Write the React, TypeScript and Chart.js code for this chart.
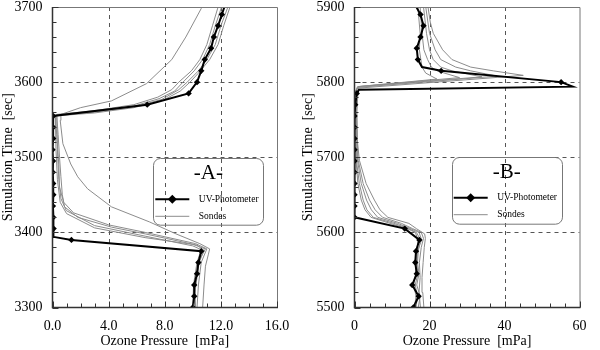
import React, { useEffect, useRef } from "react";
import { Chart, registerables } from "chart.js";
Chart.register(...registerables);

const SERIF = "'Liberation Serif', 'Times New Roman', serif";
Chart.defaults.font.family = SERIF;

// ---------------- Panel A data ----------------
const uvA_time = [3300, 3315, 3330, 3345, 3360, 3375, 3390, 3394, 3405, 3420, 3435, 3450, 3465, 3480, 3495, 3510, 3525, 3540, 3555, 3570, 3585, 3600, 3615, 3630, 3645, 3660, 3675, 3690, 3700];
const uvA_o3 = [10.0, 10.1, 10.1, 10.3, 10.4, 10.6, 1.35, 0.08, 0.08, 0.05, 0.03, 0.06, 0.05, 0.02, 0.04, 0.0, 0.05, 0.04, 0.05, 6.75, 9.7, 10.3, 10.6, 10.85, 11.3, 11.5, 11.8, 12.07, 12.25];

const sondeA1_time = [3300, 3330, 3355, 3370, 3378, 3385, 3398, 3414, 3434, 3458, 3474, 3491, 3518, 3549, 3557, 3566, 3575, 3598, 3630, 3660, 3698, 3710];
const sondeA1_o3 = [10.7, 10.8, 10.9, 11.1, 11.2, 10.5, 8.8, 6.9, 4.2, 2.5, 1.8, 1.3, 0.74, 0.55, 0.6, 2.0, 4.2, 6.7, 8.5, 9.5, 10.6, 10.9];
const sondeA2_time = [3300, 3320, 3340, 3360, 3376, 3383, 3392, 3398, 3407, 3420, 3434, 3450, 3474, 3500, 3530, 3557, 3562, 3570, 3580, 3590, 3600, 3615, 3630, 3650, 3675, 3700, 3710];
const sondeA2_o3 = [10.2, 10.15, 10.3, 10.45, 10.8, 10.3, 8.1, 6.6, 4.2, 1.8, 0.86, 0.7, 0.6, 0.5, 0.4, 0.3, 3.0, 5.8, 7.5, 8.5, 9.0, 9.9, 10.5, 11.0, 11.4, 11.8, 12.0];
const sondeA3_time = [3300, 3330, 3360, 3377, 3382, 3395, 3409, 3429, 3445, 3470, 3510, 3556, 3561, 3568, 3578, 3588, 3600, 3615, 3630, 3650, 3675, 3700, 3710];
const sondeA3_o3 = [10.0, 10.05, 10.3, 10.6, 10.0, 6.6, 3.0, 0.98, 0.6, 0.45, 0.35, 0.3, 3.0, 5.8, 7.6, 8.7, 9.3, 10.1, 10.7, 11.2, 11.6, 12.05, 12.2];
const sondeA4_time = [3300, 3330, 3360, 3378, 3384, 3393, 3406, 3425, 3440, 3470, 3510, 3556, 3560, 3567, 3577, 3590, 3600, 3615, 3630, 3650, 3675, 3700, 3710];
const sondeA4_o3 = [10.1, 10.2, 10.35, 10.9, 10.0, 6.6, 3.0, 1.0, 0.55, 0.35, 0.25, 0.2, 3.0, 5.8, 7.8, 9.0, 9.6, 10.4, 11.0, 11.6, 12.0, 12.5, 12.7];
const sondeA5_time = [3300, 3330, 3360, 3378, 3385, 3400, 3410, 3426, 3440, 3460, 3490, 3530, 3555, 3559, 3566, 3576, 3588, 3600, 3612, 3630, 3650, 3675, 3700, 3710];
const sondeA5_o3 = [10.3, 10.4, 10.6, 11.0, 10.2, 6.6, 4.0, 1.5, 0.8, 0.5, 0.45, 0.3, 0.2, 3.0, 5.8, 7.9, 9.1, 9.8, 10.4, 11.2, 11.8, 12.2, 12.65, 12.8];

// ---------------- Panel B data ----------------
const uvB_time = [5500, 5515, 5530, 5545, 5560, 5575, 5590, 5605, 5620, 5635, 5650, 5665, 5680, 5695, 5710, 5725, 5740, 5755, 5770, 5785, 5790, 5794, 5800, 5815, 5820, 5830, 5845, 5860, 5875, 5890, 5900];
const uvB_o3 = [15.7, 17.1, 15.4, 16.6, 16.2, 16.4, 17.3, 13.4, 0.0, 0.0, 0.0, 0.0, 0.0, 0.0, 0.0, 0.0, 0.0, 0.0, 0.2, 0.6, 1.2, 58.2, 55.1, 23.1, 18.0, 16.9, 16.6, 17.6, 18.4, 17.6, 16.5];

const sondeB1_time = [5500, 5520, 5540, 5560, 5580, 5592, 5598, 5605, 5612, 5620, 5630, 5643, 5665, 5696, 5720, 5760, 5792, 5809, 5815, 5820, 5830, 5843, 5865, 5880, 5900, 5905];
const sondeB1_o3 = [18.5, 18.2, 18.0, 18.3, 18.6, 18.9, 18.7, 16.5, 14.5, 8.9, 6.8, 5.3, 3.1, 1.3, 0.8, 0.6, 1.0, 45, 37, 31, 26, 23.5, 21, 20.2, 19.6, 19.5];
const sondeB2_time = [5500, 5520, 5540, 5560, 5580, 5592, 5600, 5605, 5612, 5620, 5630, 5643, 5665, 5696, 5730, 5790, 5793, 5808, 5815, 5820, 5830, 5843, 5865, 5900, 5905];
const sondeB2_o3 = [17.6, 17.2, 17.5, 17.3, 17.8, 18.4, 17.8, 15.5, 12.5, 7.5, 5.5, 4.0, 2.3, 1.0, 0.6, 0.6, 1.0, 38, 31, 27, 23, 21.5, 20, 19.0, 18.9];
const sondeB3_time = [5500, 5515, 5530, 5545, 5560, 5575, 5590, 5600, 5605, 5612, 5620, 5630, 5643, 5665, 5696, 5788, 5794, 5807, 5815, 5820, 5830, 5843, 5865, 5900, 5905];
const sondeB3_o3 = [16.4, 16.8, 16.2, 16.9, 16.6, 16.8, 17.9, 17.2, 15.0, 11.5, 6.2, 4.5, 3.2, 1.8, 0.8, 0.4, 1.0, 34, 26, 23, 21, 20, 19.2, 18.4, 18.3];
const sondeB4_time = [5500, 5515, 5530, 5545, 5560, 5575, 5590, 5600, 5605, 5612, 5620, 5630, 5643, 5665, 5696, 5788, 5794, 5806, 5815, 5820, 5830, 5843, 5865, 5900, 5905];
const sondeB4_o3 = [17.0, 17.5, 16.6, 17.2, 16.8, 17.0, 17.6, 16.5, 14.5, 10.5, 5.0, 3.3, 2.3, 1.3, 0.5, 0.3, 1.0, 28, 22, 20.5, 19.5, 18.5, 18, 17.5, 17.4];
const sondeB5_time = [5500, 5515, 5530, 5545, 5560, 5575, 5590, 5600, 5605, 5612, 5620, 5630, 5643, 5665, 5696, 5788, 5794, 5804, 5812, 5820, 5843, 5865, 5900, 5905];
const sondeB5_o3 = [16.0, 16.4, 15.8, 16.3, 16.5, 16.6, 17.0, 16.2, 14.0, 9.5, 4.4, 2.8, 1.8, 0.9, 0.4, 0.3, 0.8, 22, 19, 18, 17.3, 17.5, 16.9, 16.8];

// ---------------- axes ----------------
const xTickDecimalsA = 1;
const xTickDecimalsB = 0;

type Panel = {
  letter: string;
  uv: [number[], number[]];
  sondes: [number[], number[]][];
  xMin: number; xMax: number; xStep: number; xMinor: number; xDec: number;
  yMin: number; yMax: number; yStep: number; yMinor: number;
  yAxisWidth: number; padRight: number;
  legendLeft: number; legendTop: number;
};

const panelA: Panel = {
  letter: "-A-",
  uv: [uvA_time, uvA_o3],
  sondes: [[sondeA1_time, sondeA1_o3], [sondeA2_time, sondeA2_o3], [sondeA3_time, sondeA3_o3], [sondeA4_time, sondeA4_o3], [sondeA5_time, sondeA5_o3]],
  xMin: 0, xMax: 16, xStep: 4, xMinor: 1, xDec: xTickDecimalsA,
  yMin: 3300, yMax: 3700, yStep: 100, yMinor: 20,
  yAxisWidth: 52.5, padRight: 23,
  legendLeft: 100.8, legendTop: 151.3,
};

const panelB: Panel = {
  letter: "-B-",
  uv: [uvB_time, uvB_o3],
  sondes: [[sondeB1_time, sondeB1_o3], [sondeB2_time, sondeB2_o3], [sondeB3_time, sondeB3_o3], [sondeB4_time, sondeB4_o3], [sondeB5_time, sondeB5_o3]],
  xMin: 0, xMax: 60, xStep: 20, xMinor: 4, xDec: xTickDecimalsB,
  yMin: 5500, yMax: 5900, yStep: 100, yMinor: 20,
  yAxisWidth: 54.5, padRight: 20.5,
  legendLeft: 97.2, legendTop: 149.7,
};

const zip = (t: number[], v: number[]) => t.map((tt, i) => ({ x: v[i], y: tt }));

function roundRect(ctx: CanvasRenderingContext2D, x: number, y: number, w: number, h: number, r: number) {
  ctx.beginPath();
  ctx.moveTo(x + r, y);
  ctx.lineTo(x + w - r, y);
  ctx.arcTo(x + w, y, x + w, y + r, r);
  ctx.lineTo(x + w, y + h - r);
  ctx.arcTo(x + w, y + h, x + w - r, y + h, r);
  ctx.lineTo(x + r, y + h);
  ctx.arcTo(x, y + h, x, y + h - r, r);
  ctx.lineTo(x, y + r);
  ctx.arcTo(x, y, x + r, y, r);
  ctx.closePath();
}

function makeFramePlugin(p: Panel) {
  return {
    id: "frame",
    beforeDatasetsDraw(chart: any) {
      const { ctx, chartArea: a, scales } = chart;
      const xs = scales.x, ys = scales.y;
      ctx.save();
      ctx.strokeStyle = "#555";
      ctx.lineWidth = 1;
      ctx.setLineDash([4, 4]);
      const nx = Math.round((p.xMax - p.xMin) / p.xStep);
      for (let i = 1; i < nx; i++) {
        const px = Math.round(xs.getPixelForValue(p.xMin + i * p.xStep)) + 0.5;
        ctx.beginPath(); ctx.moveTo(px, a.top); ctx.lineTo(px, a.bottom); ctx.stroke();
      }
      const ny = Math.round((p.yMax - p.yMin) / p.yStep);
      for (let i = 1; i < ny; i++) {
        const py = Math.round(ys.getPixelForValue(p.yMin + i * p.yStep)) + 0.5;
        ctx.beginPath(); ctx.moveTo(a.left, py); ctx.lineTo(a.right, py); ctx.stroke();
      }
      ctx.restore();
    },
    afterDatasetsDraw(chart: any) {
      const { ctx, chartArea: a, scales } = chart;
      const xs = scales.x, ys = scales.y;
      ctx.save();
      ctx.setLineDash([]);
      // top & right border
      ctx.strokeStyle = "#777";
      ctx.lineWidth = 1;
      ctx.beginPath();
      ctx.moveTo(a.left, a.top + 0.5); ctx.lineTo(a.right + 0.5, a.top + 0.5); ctx.lineTo(a.right + 0.5, a.bottom);
      ctx.stroke();
      // left & bottom axis
      ctx.strokeStyle = "#333";
      ctx.lineWidth = 1.5;
      ctx.beginPath();
      ctx.moveTo(a.left, a.top); ctx.lineTo(a.left, a.bottom); ctx.lineTo(a.right + 1, a.bottom);
      ctx.stroke();
      // inward ticks
      ctx.lineWidth = 1;
      ctx.strokeStyle = "#333";
      const nxm = Math.round((p.xMax - p.xMin) / p.xMinor);
      for (let i = 0; i <= nxm; i++) {
        const v = p.xMin + i * p.xMinor;
        const major = Math.abs((v - p.xMin) / p.xStep - Math.round((v - p.xMin) / p.xStep)) < 1e-6;
        const px = Math.round(xs.getPixelForValue(v)) + 0.5;
        ctx.beginPath(); ctx.moveTo(px, a.bottom); ctx.lineTo(px, a.bottom - (major ? 6 : 4)); ctx.stroke();
      }
      const nym = Math.round((p.yMax - p.yMin) / p.yMinor);
      for (let i = 0; i <= nym; i++) {
        const v = p.yMin + i * p.yMinor;
        const major = Math.abs((v - p.yMin) / p.yStep - Math.round((v - p.yMin) / p.yStep)) < 1e-6;
        const py = Math.round(ys.getPixelForValue(v)) + 0.5;
        ctx.beginPath(); ctx.moveTo(a.left, py); ctx.lineTo(a.left + (major ? 6 : 4), py); ctx.stroke();
      }
      // legend
      const bx = a.left + p.legendLeft, by = a.top + p.legendTop, bw = 110, bh = 66.7;
      ctx.strokeStyle = "#777";
      ctx.lineWidth = 1;
      roundRect(ctx, Math.round(bx) + 0.5, Math.round(by) + 0.5, bw, bh, 7);
      ctx.stroke();
      ctx.fillStyle = "#000";
      ctx.textAlign = "center";
      ctx.textBaseline = "middle";
      ctx.font = `21px ${SERIF}`;
      ctx.fillText(p.letter, bx + bw / 2, by + 15.5);
      // UV sample
      const uy = by + 41;
      ctx.strokeStyle = "#000";
      ctx.lineWidth = 2;
      ctx.beginPath(); ctx.moveTo(bx + 2, uy); ctx.lineTo(bx + 36, uy); ctx.stroke();
      const mx = bx + 19, r = 4.5;
      ctx.beginPath(); ctx.moveTo(mx - r, uy); ctx.lineTo(mx, uy - r); ctx.lineTo(mx + r, uy); ctx.lineTo(mx, uy + r); ctx.closePath(); ctx.fill();
      // Sondes sample
      const sy = by + 58;
      ctx.strokeStyle = "#8c8c8c";
      ctx.lineWidth = 1;
      ctx.beginPath(); ctx.moveTo(bx + 2, sy); ctx.lineTo(bx + 36, sy); ctx.stroke();
      ctx.font = `9.5px ${SERIF}`;
      ctx.textAlign = "left";
      ctx.fillStyle = "#000";
      ctx.fillText("UV-Photometer", bx + 45.5, uy);
      ctx.fillText("Sondes", bx + 45.5, sy);
      ctx.restore();
    },
  };
}

function makeConfig(p: Panel): any {
  const t0 = p.uv[0][0];
  const datasets: any[] = [
    {
      label: "UV-Photometer",
      data: zip(p.uv[0], p.uv[1]),
      showLine: true,
      borderColor: "#000",
      backgroundColor: "#000",
      borderWidth: 2,
      tension: 0,
      pointStyle: "rectRot",
      pointRadius: (c: any) => (c.raw && (c.raw.y - t0) % 15 === 0 ? 3.2 : 0),
      pointBackgroundColor: "#000",
      pointBorderWidth: 0,
    },
    ...p.sondes.map((s, i) => ({
      label: "Sondes " + (i + 1),
      data: zip(s[0], s[1]),
      showLine: true,
      borderColor: "#8c8c8c",
      borderWidth: 1,
      tension: 0,
      pointRadius: 0,
    })),
  ];
  return {
    type: "scatter",
    data: { datasets },
    plugins: [makeFramePlugin(p)],
    options: {
      animation: false,
      responsive: false,
      devicePixelRatio: 1,
      events: [],
      layout: { padding: { left: 0, right: p.padRight, top: 7, bottom: 0 } },
      plugins: { legend: { display: false }, tooltip: { enabled: false } },
      scales: {
        x: {
          type: "linear",
          min: p.xMin, max: p.xMax,
          grid: { display: false, drawTicks: false },
          border: { display: false },
          ticks: {
            stepSize: p.xStep,
            padding: 12,
            color: "#000",
            font: { family: SERIF, size: 14, lineHeight: 1 },
            callback: (v: number) => Number(v).toFixed(p.xDec),
            maxRotation: 0,
          },
          title: {
            display: true,
            text: "Ozone Pressure  [mPa]",
            color: "#000",
            font: { family: SERIF, size: 14 },
            padding: { top: 0, bottom: 0 },
          },
          afterFit: (s: any) => { s.height = 42.5; s.paddingLeft = 0; s.paddingRight = 0; },
        },
        y: {
          type: "linear",
          min: p.yMin, max: p.yMax,
          grid: { display: false, drawTicks: false },
          border: { display: false },
          ticks: {
            stepSize: p.yStep,
            padding: 10,
            color: "#000",
            font: { family: SERIF, size: 14, lineHeight: 1 },
            callback: (v: number) => String(Math.round(Number(v))),
          },
          title: {
            display: true,
            text: "Simulation Time  [sec]",
            color: "#000",
            font: { family: SERIF, size: 14 },
            padding: { top: 0, bottom: 0 },
          },
          afterFit: (s: any) => { s.width = p.yAxisWidth; s.paddingTop = 0; s.paddingBottom = 0; },
        },
      },
    },
  };
}

function PanelChart({ panel, left }: { panel: Panel; left: number }) {
  const ref = useRef<HTMLCanvasElement>(null);
  useEffect(() => {
    const chart = new Chart(ref.current as HTMLCanvasElement, makeConfig(panel));
    return () => chart.destroy();
  }, [panel]);
  return (
    <canvas
      ref={ref}
      width={300}
      height={350}
      style={{ position: "absolute", left, top: 0, width: 300, height: 350 }}
    />
  );
}

export default function App() {
  return (
    <div style={{ position: "fixed", left: 0, top: 0, width: 600, height: 350, background: "#fff" }}>
      <PanelChart panel={panelA} left={0} />
      <PanelChart panel={panelB} left={300} />
    </div>
  );
}
